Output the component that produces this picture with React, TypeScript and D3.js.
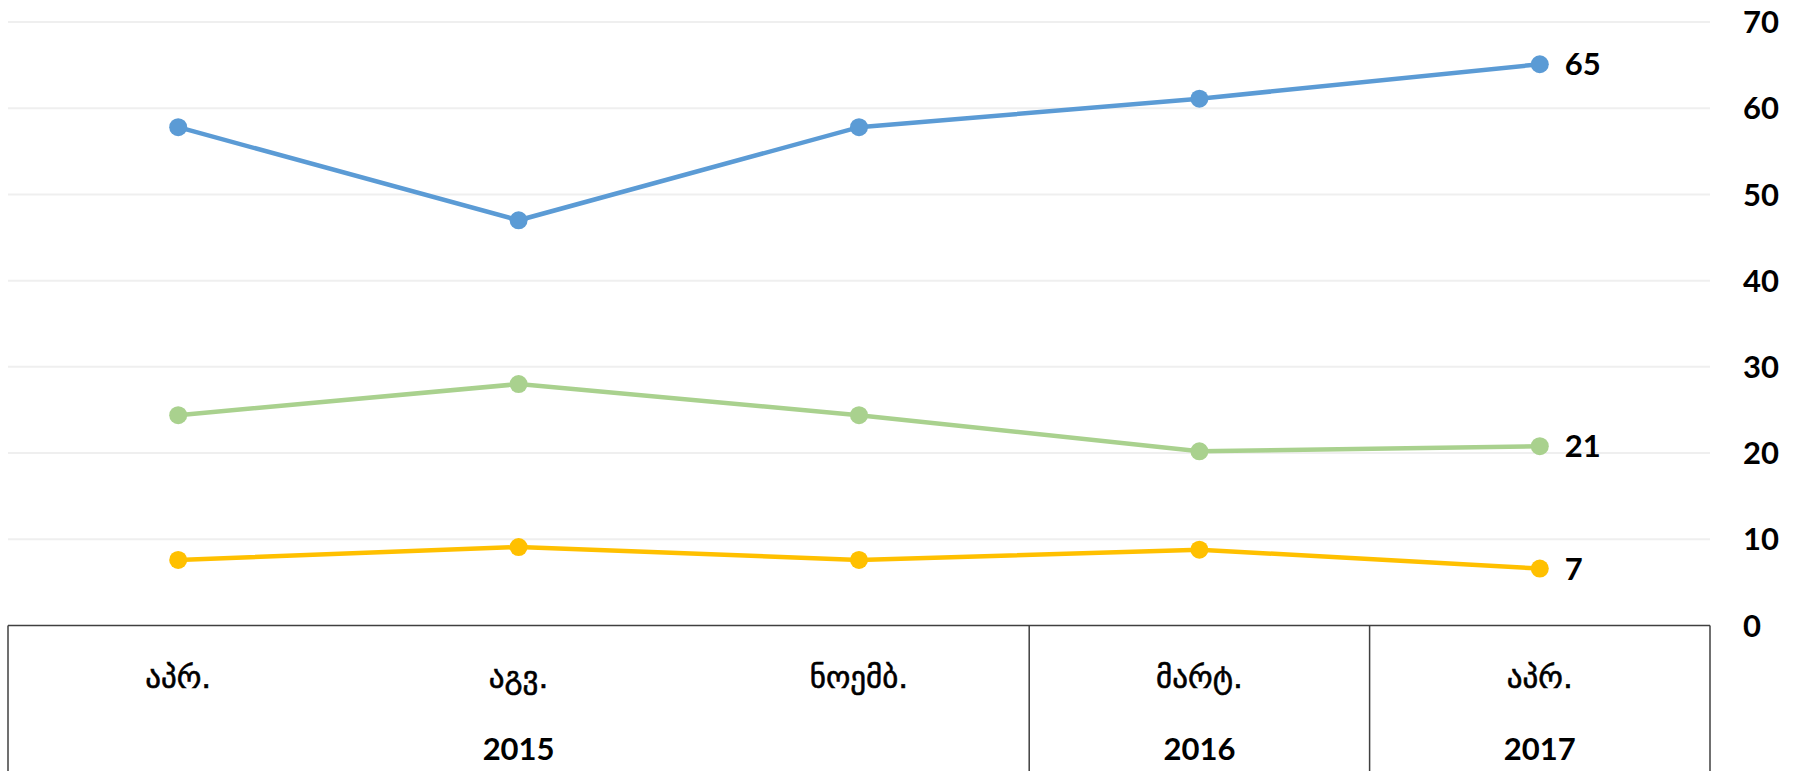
import React from "react";
import * as d3 from "d3";

const months = ["აპრ.", "აგვ.", "ნოემბ.", "მარტ.", "აპრ."];
const years = ["2015", "2016", "2017"];
const yearSpans = [3, 1, 1];
const seriesBlue = [57.8, 47.0, 57.8, 61.1, 65.1];
const seriesGreen = [24.4, 28.0, 24.4, 20.2, 20.8];
const seriesYellow = [7.6, 9.1, 7.6, 8.8, 6.6];
const yTicks = [0, 10, 20, 30, 40, 50, 60, 70];

const series = [
  { name: "blue", values: seriesBlue, color: "#5B9BD5" },
  { name: "green", values: seriesGreen, color: "#A9D18E" },
  { name: "yellow", values: seriesYellow, color: "#FFC000" },
];

const W = 1797;
const H = 771;

export default function App() {
  const idx = months.map((_, i) => String(i));
  const x = d3.scaleBand<string>().domain(idx).range([8, 1710]).padding(0);
  const y = d3.scaleLinear().domain([0, 70]).range([625.5, 22]);
  const cx = (i: number) => (x(String(i)) as number) + x.bandwidth() / 2;
  const line = d3
    .line<number>()
    .x((_, i) => cx(i))
    .y((d) => y(d));

  const tableTop = y(0);
  const tableBottom = H + 20;
  const latin = "Lato, 'Open Sans', sans-serif";
  const geo = "'DejaVu Sans', sans-serif";

  let acc = 0;
  const groups = years.map((yr, gi) => {
    const start = acc;
    acc += yearSpans[gi];
    const x0 = x(String(start)) as number;
    const x1 = (x(String(acc - 1)) as number) + x.bandwidth();
    return { yr, x0, x1 };
  });

  return (
    <svg
      width={W}
      height={H}
      style={{ position: "absolute", left: 0, top: 0, background: "#fff" }}
    >
      {yTicks
        .filter((t) => t > 0)
        .map((t) => (
          <line
            key={t}
            x1={8}
            x2={1710}
            y1={y(t)}
            y2={y(t)}
            stroke="#EFEFEF"
            strokeWidth={2}
          />
        ))}
      {yTicks.map((t) => (
        <text
          key={t}
          x={1743}
          y={y(t)}
          dy="0.36em"
          fontFamily={latin}
          fontWeight={700}
          fontSize={31}
          fill="#000"
        >
          {t}
        </text>
      ))}
      <line x1={8} x2={1710} y1={tableTop} y2={tableTop} stroke="#404040" strokeWidth={1.5} />
      {groups.map((g, i) => (
        <g key={g.yr}>
          <line x1={g.x0} x2={g.x0} y1={tableTop} y2={tableBottom} stroke="#404040" strokeWidth={1.5} />
          {i === groups.length - 1 && (
            <line x1={g.x1} x2={g.x1} y1={tableTop} y2={tableBottom} stroke="#404040" strokeWidth={1.5} />
          )}
          <text
            x={(g.x0 + g.x1) / 2}
            y={760}
            textAnchor="middle"
            fontFamily={latin}
            fontWeight={700}
            fontSize={31}
            fill="#000"
          >
            {g.yr}
          </text>
        </g>
      ))}
      {months.map((m, i) => (
        <text
          key={i}
          x={cx(i)}
          y={688}
          textAnchor="middle"
          fontFamily={geo}
          fontSize={31}
          stroke="#000"
          strokeWidth={0.6}
          fill="#000"
        >
          {m}
        </text>
      ))}
      {series.map((s) => (
        <g key={s.name}>
          <path d={line(s.values) || ""} fill="none" stroke={s.color} strokeWidth={4.5} />
          {s.values.map((v, i) => (
            <circle key={i} cx={cx(i)} cy={y(v)} r={9} fill={s.color} />
          ))}
          <text
            x={cx(s.values.length - 1) + 25}
            y={y(s.values[s.values.length - 1])}
            dy="0.36em"
            fontFamily={latin}
            fontWeight={700}
            fontSize={31}
            fill="#000"
          >
            {Math.round(s.values[s.values.length - 1])}
          </text>
        </g>
      ))}
    </svg>
  );
}
